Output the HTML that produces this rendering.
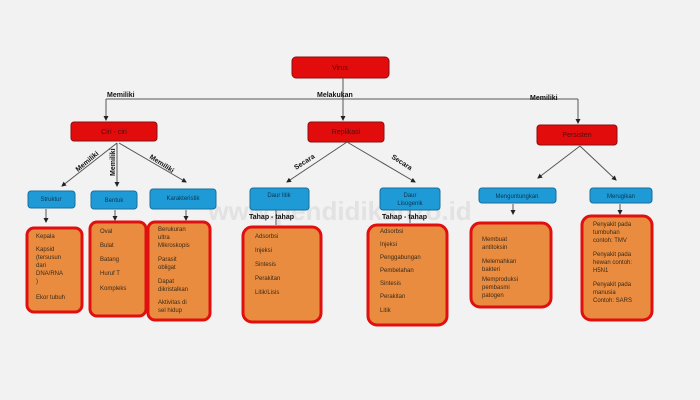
<!DOCTYPE html>
<html><head><meta charset="utf-8"><style>
body{margin:0;background:#f2f2f2;}
svg{display:block;font-family:"Liberation Sans",sans-serif;}
.r{fill:#e30c0c;stroke:#8a1010;stroke-width:1}
.b{fill:#1e9ad6;stroke:#1a6f9a;stroke-width:1}
.o{fill:#e98c3f;stroke:#e01010;stroke-width:3}
.t{font-size:6px;fill:#3a2a1a}
.w{font-size:7px;fill:#4a1010;text-anchor:middle}
.bl{font-size:6px;fill:#0d3550;text-anchor:middle}
.l{font-size:7px;font-weight:bold;fill:#111}
line{stroke:#555;stroke-width:1}
</style></head><body>
<svg width="700" height="400" viewBox="0 0 700 400">
<defs><marker id="a" markerWidth="5" markerHeight="5" refX="4" refY="2.5" orient="auto"><path d="M0,0L5,2.5L0,5z" fill="#222"/></marker></defs>
<rect width="700" height="400" fill="#f2f2f2"/>
<text x="340" y="220" font-size="26" font-weight="bold" fill="#e2e2e2" text-anchor="middle" font-family="Liberation Sans">www.pendidikanzo.id</text>
<rect class="r" x="292" y="57" width="97" height="21" rx="4"/><text class="w" x="340" y="70">Virus</text>
<line x1="106" y1="99" x2="578" y2="99" stroke="#aaa"/>
<line x1="106" y1="99" x2="106" y2="120" marker-end="url(#a)"/>
<line x1="343" y1="78" x2="343" y2="120" marker-end="url(#a)"/>
<line x1="578" y1="99" x2="578" y2="123" marker-end="url(#a)"/>
<text class="l" x="107" y="97">Memiliki</text>
<text class="l" x="317" y="97">Melakukan</text>
<text class="l" x="530" y="100">Memiliki</text>
<rect class="r" x="71" y="122" width="86" height="19" rx="3"/><text class="w" x="114" y="134">Ciri - ciri</text>
<rect class="r" x="308" y="122" width="76" height="20" rx="3"/><text class="w" x="346" y="134">Replikasi</text>
<rect class="r" x="537" y="125" width="80" height="20" rx="3"/><text class="w" x="577" y="137">Persisten</text>
<line x1="117" y1="143" x2="62" y2="186" marker-end="url(#a)"/>
<line x1="117" y1="143" x2="117" y2="186" marker-end="url(#a)"/>
<line x1="119" y1="143" x2="186" y2="182" marker-end="url(#a)"/>
<line x1="347" y1="142" x2="287" y2="182" marker-end="url(#a)"/>
<line x1="347" y1="142" x2="415" y2="182" marker-end="url(#a)"/>
<line x1="580" y1="146" x2="538" y2="178" marker-end="url(#a)"/>
<line x1="580" y1="146" x2="616" y2="180" marker-end="url(#a)"/>
<text class="l" transform="translate(78,172) rotate(-40)">Memiliki</text>
<text class="l" transform="translate(115,176) rotate(-90)">Memiliki</text>
<text class="l" transform="translate(149,158) rotate(33)">Memiliki</text>
<text class="l" transform="translate(296,170) rotate(-33)">Secara</text>
<text class="l" transform="translate(391,158) rotate(33)">Secara</text>
<rect class="b" x="28" y="191" width="47" height="17" rx="3"/><text class="bl" x="51" y="201">Struktur</text>
<rect class="b" x="91" y="191" width="46" height="18" rx="3"/><text class="bl" x="114" y="202">Bentuk</text>
<rect class="b" x="150" y="189" width="66" height="20" rx="3"/><text class="bl" x="183" y="200">Karakteristik</text>
<rect class="b" x="250" y="188" width="59" height="22" rx="3"/><text class="bl" x="279" y="197">Daur litik</text>
<rect class="b" x="380" y="188" width="60" height="22" rx="3"/><text class="bl" x="410" y="197">Daur</text><text class="bl" x="410" y="205">Lisogenik</text>
<rect class="b" x="479" y="188" width="77" height="15" rx="3"/><text class="bl" x="517" y="198">Menguntungkan</text>
<rect class="b" x="590" y="188" width="62" height="15" rx="3"/><text class="bl" x="621" y="198">Merugikan</text>
<line x1="46" y1="209" x2="46" y2="222" marker-end="url(#a)"/>
<line x1="115" y1="210" x2="115" y2="220" marker-end="url(#a)"/>
<line x1="186" y1="210" x2="186" y2="220" marker-end="url(#a)"/>
<line x1="276" y1="210" x2="276" y2="225"/>
<line x1="410" y1="210" x2="410" y2="223"/>
<line x1="513" y1="204" x2="513" y2="214" marker-end="url(#a)"/>
<line x1="620" y1="204" x2="620" y2="214" marker-end="url(#a)"/>
<text class="l" x="249" y="219" font-size="6">Tahap - tahap</text>
<text class="l" x="382" y="219" font-size="6">Tahap - tahap</text>
<rect class="o" x="27" y="228" width="55" height="84" rx="7"/>
<text class="t"><tspan x="36" y="238">Kepala</tspan><tspan x="36" y="251">Kapsid</tspan><tspan x="36" y="259">(tersusun</tspan><tspan x="36" y="267">dari</tspan><tspan x="36" y="275">DNA/RNA</tspan><tspan x="36" y="283">)</tspan><tspan x="36" y="299">Ekor tubuh</tspan></text>
<rect class="o" x="90" y="222" width="56" height="94" rx="7"/>
<text class="t"><tspan x="100" y="233">Oval</tspan><tspan x="100" y="247">Bulat</tspan><tspan x="100" y="261">Batang</tspan><tspan x="100" y="275">Huruf T</tspan><tspan x="100" y="290">Kompleks</tspan></text>
<rect class="o" x="148" y="222" width="62" height="98" rx="7"/>
<text class="t"><tspan x="158" y="231">Berukuran</tspan><tspan x="158" y="239">ultra</tspan><tspan x="158" y="247">Mikroskopis</tspan><tspan x="158" y="261">Parasit</tspan><tspan x="158" y="269">obligat</tspan><tspan x="158" y="283">Dapat</tspan><tspan x="158" y="291">dikristalkan</tspan><tspan x="158" y="304">Aktivitas di</tspan><tspan x="158" y="312">sel hidup</tspan></text>
<rect class="o" x="243" y="227" width="78" height="95" rx="9"/>
<text class="t"><tspan x="255" y="238">Adsorbsi</tspan><tspan x="255" y="252">Injeksi</tspan><tspan x="255" y="266">Sintesis</tspan><tspan x="255" y="280">Perakitan</tspan><tspan x="255" y="294">Litik/Lisis</tspan></text>
<rect class="o" x="368" y="225" width="79" height="100" rx="9"/>
<text class="t"><tspan x="380" y="233">Adsorbsi</tspan><tspan x="380" y="246">Injeksi</tspan><tspan x="380" y="259">Penggabungan</tspan><tspan x="380" y="272">Pembelahan</tspan><tspan x="380" y="285">Sintesis</tspan><tspan x="380" y="298">Perakitan</tspan><tspan x="380" y="312">Litik</tspan></text>
<rect class="o" x="471" y="223" width="80" height="84" rx="9"/>
<text class="t"><tspan x="482" y="241">Membuat</tspan><tspan x="482" y="249">antitoksin</tspan><tspan x="482" y="263">Melemahkan</tspan><tspan x="482" y="271">bakteri</tspan><tspan x="482" y="281">Memproduksi</tspan><tspan x="482" y="289">pembasmi</tspan><tspan x="482" y="297">patogen</tspan></text>
<rect class="o" x="582" y="216" width="70" height="104" rx="9"/>
<text class="t"><tspan x="593" y="226">Penyakit pada</tspan><tspan x="593" y="234">tumbuhan</tspan><tspan x="593" y="242">contoh: TMV</tspan><tspan x="593" y="256">Penyakit pada</tspan><tspan x="593" y="264">hewan contoh:</tspan><tspan x="593" y="272">H5N1</tspan><tspan x="593" y="286">Penyakit pada</tspan><tspan x="593" y="294">manusia</tspan><tspan x="593" y="302">Contoh: SARS</tspan></text>
</svg>
</body></html>
